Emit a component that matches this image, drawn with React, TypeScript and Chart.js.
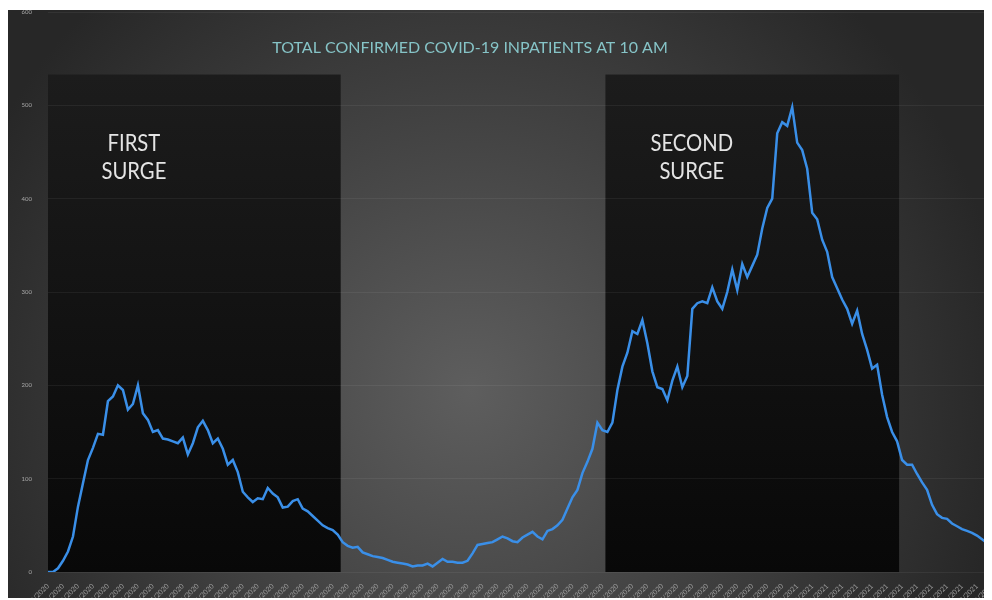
import React, { useEffect, useRef } from 'react';
import { Chart, registerables } from 'chart.js';

Chart.register(...registerables);

const chartTitle = 'TOTAL CONFIRMED COVID-19 INPATIENTS AT 10 AM';
const startYear = 2020;
const startMonth = 2; // March (0-based)
const startDay = 10;
const dayStep = 2;
const labelEvery = 3;

const inpatients = [
  0, 0, 4, 12, 22, 38, 70, 95, 120, 133,
  148, 147, 183, 188, 200, 195, 174, 180, 200, 170,
  163, 150, 152, 143, 142, 140, 138, 144, 126, 138,
  155, 162, 152, 138, 143, 132, 115, 120, 107, 86,
  80, 75, 79, 78, 90, 84, 80, 69, 70, 76,
  78, 68, 65, 60, 55, 50, 47, 45, 40, 32,
  28, 26, 27, 21, 19, 17, 16, 15, 13, 11,
  10, 9, 8, 6, 7, 7, 9, 6, 10, 14,
  11, 11, 10, 10, 12, 20, 29, 30, 31, 32,
  35, 38, 36, 33, 32, 37, 40, 43, 38, 35,
  44, 46, 50, 56, 68, 80, 88, 106, 118, 132,
  160, 152, 150, 160, 195, 220, 235, 258, 255, 270,
  245, 215, 198, 196, 184, 205, 220, 198, 210, 282,
  288, 290, 288, 305, 290, 282, 300, 324, 302, 330,
  316, 328, 340, 368, 390, 400, 470, 482, 478, 498,
  460, 452, 432, 385, 378, 356, 343, 316, 304, 292,
  282, 266, 280, 255, 238, 218, 222, 190, 166, 150,
  140, 120, 115, 115, 105, 96, 88, 72, 62, 58,
  57, 52, 49, 46, 44, 42, 39, 35, 31, 27,
];

const yMin = 0;
const yMax = 600;
const yStep = 100;

const surgeNames = [
  ['FIRST', 'SURGE'],
  ['SECOND', 'SURGE'],
];
const surgeStart = [0, 111.6];
const surgeEnd = [58.6, 170.4];
const surgeTop = 533;
const surgeLabelIdx = [17.2, 128.9];
const surgeLabelVal = [459, 429];

const dateLabels = inpatients.map((_, i) => {
  const d = new Date(startYear, startMonth, startDay + i * dayStep);
  return `${d.getMonth() + 1}/${d.getDate()}/${d.getFullYear()}`;
});

const backdrop = {
  id: 'backdrop',
  beforeDraw(chart: any) {
    const { ctx, width, height } = chart;
    const x = chart.scales.x;
    const y = chart.scales.y;
    ctx.save();
    const g = ctx.createRadialGradient(464, 380, 0, 464, 380, 540);
    g.addColorStop(0, '#5e5e5e');
    g.addColorStop(1, '#272727');
    ctx.fillStyle = g;
    ctx.fillRect(0, 0, width, height);

    const top = y.getPixelForValue(surgeTop);
    const bottom = y.getPixelForValue(0);
    surgeStart.forEach((s, k) => {
      const l = x.getPixelForValue(s);
      const r = x.getPixelForValue(surgeEnd[k]);
      const bg = ctx.createLinearGradient(0, top, 0, bottom);
      bg.addColorStop(0, '#1c1c1c');
      bg.addColorStop(1, '#080808');
      ctx.fillStyle = bg;
      ctx.fillRect(l, top, r - l, bottom - top);
      ctx.fillStyle = '#e4e4e4';
      ctx.font = '23px Lato, sans-serif';
      ctx.textAlign = 'center';
      ctx.textBaseline = 'middle';
      const cx = x.getPixelForValue(surgeLabelIdx[k]);
      surgeNames[k].forEach((t, j) => {
        ctx.save();
        ctx.translate(cx, y.getPixelForValue(surgeLabelVal[j]));
        ctx.scale(0.88, 1);
        ctx.fillText(t, 0, 0);
        ctx.restore();
      });
    });

    ctx.fillStyle = '#86c4c7';
    ctx.font = '16px Lato, sans-serif';
    ctx.textAlign = 'center';
    ctx.textBaseline = 'middle';
    ctx.fillText(chartTitle, 464, 38);
    ctx.restore();
  },
};

export default function App() {
  const ref = useRef<HTMLCanvasElement | null>(null);
  useEffect(() => {
    if (!ref.current) return;
    const chart = new Chart(ref.current, {
      type: 'line',
      data: {
        labels: dateLabels,
        datasets: [
          {
            data: inpatients,
            borderColor: '#3a8fe8',
            borderWidth: 2.5,
            pointRadius: 0,
            tension: 0,
            fill: false,
          },
        ],
      },
      options: {
        animation: false,
        responsive: true,
        maintainAspectRatio: false,
        layout: { autoPadding: false, padding: { top: 2, right: 0, left: 0, bottom: 0 } },
        plugins: { legend: { display: false }, tooltip: { enabled: false } },
        scales: {
          x: {
            offset: false,
            grid: { display: false },
            border: { display: false },
            ticks: {
              autoSkip: false,
              minRotation: 45,
              maxRotation: 45,
              color: '#9c9c9c',
              font: { size: 7, family: 'Lato, sans-serif' },
              padding: 2,
              callback: (_v: any, i: number) => (i % labelEvery === 0 ? dateLabels[i] : null),
            },
            afterFit: (s: any) => {
              s.height = 28;
              s.paddingLeft = 0;
              s.paddingRight = 0;
              s.paddingTop = 0;
              s.paddingBottom = 0;
            },
          },
          y: {
            min: yMin,
            max: yMax,
            grid: { color: 'rgba(255,255,255,0.06)', drawTicks: false },
            border: { display: false },
            ticks: {
              stepSize: yStep,
              color: '#a8a8a8',
              font: { size: 6, family: 'Lato, sans-serif' },
              padding: 16,
            },
            afterFit: (s: any) => {
              s.width = 42;
              s.paddingTop = 0;
              s.paddingBottom = 0;
              s.paddingLeft = 0;
              s.paddingRight = 0;
            },
          },
        },
      },
      plugins: [backdrop],
    });
    return () => chart.destroy();
  }, []);
  return (
    <div style={{ position: 'relative', left: -2, top: 2, width: 986, height: 590 }}>
      <canvas ref={ref} />
    </div>
  );
}
